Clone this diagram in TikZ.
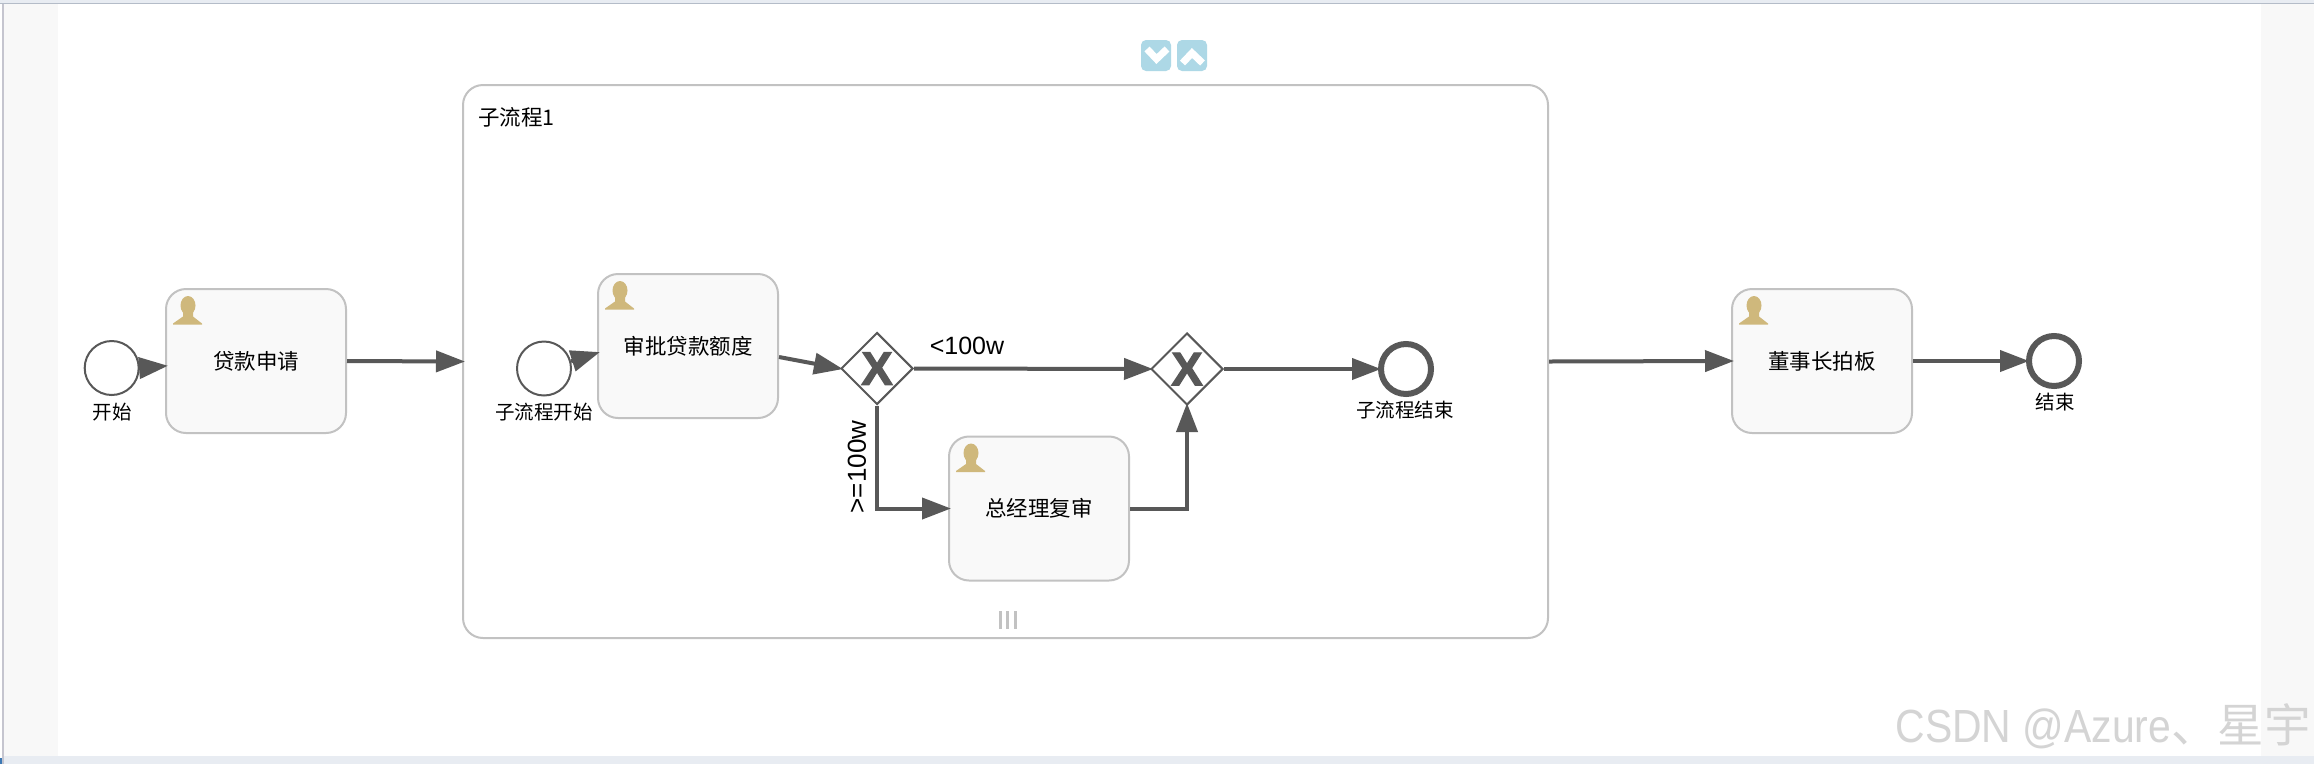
\documentclass[tikz,border=0pt]{standalone}
\usepackage{fontspec}
\usetikzlibrary{arrows.meta,shapes.geometric,calc}
\setmainfont{Liberation Sans}
\newfontfamily\cjk{Noto Sans CJK SC}
\newfontfamily\wmfont[FakeStretch=0.88]{Liberation Sans}
\newfontfamily\wmcjk{Noto Sans CJK SC}
\newfontfamily\gwfont[FakeBold=2.5]{Liberation Sans Bold}
\definecolor{edgegray}{HTML}{585858}
\definecolor{boxgray}{HTML}{C2C2C2}
\definecolor{boxfill}{HTML}{F9F9F9}
\definecolor{stripfill}{HTML}{F8F8F8}
\definecolor{barfill}{HTML}{E8ECF2}
\definecolor{barline}{HTML}{B4BCC8}
\definecolor{sideline}{HTML}{C5C5CF}
\definecolor{cornerblue}{HTML}{3C78B4}
\definecolor{iconfill}{HTML}{CFB87C}
\definecolor{btnfill}{HTML}{ADD8E6}
\tikzset{
  x=1pt,y=-1pt,
  taskbox/.style={draw=boxgray,line width=2pt,fill=boxfill,rounded corners=20pt,
    minimum width=180pt,minimum height=144pt,inner sep=0pt,
    font=\cjk\fontsize{21.5}{25}\selectfont,anchor=center},
  subbox/.style={draw=boxgray,line width=2pt,fill=white,rounded corners=20pt,
    minimum width=1085pt,minimum height=553pt,inner sep=0pt},
  startev/.style={circle,draw=edgegray,line width=2pt,fill=white,minimum size=54pt,inner sep=0pt},
  endev/.style={circle,draw=edgegray,line width=6pt,fill=white,minimum size=50pt,inner sep=0pt},
  gateway/.style={diamond,draw=edgegray,line width=2pt,fill=white,aspect=1,minimum size=72pt,inner sep=0pt,
    text=edgegray,font=\gwfont\fontsize{47}{47}\selectfont},
  evlabel/.style={font=\cjk\fontsize{19.5}{23}\selectfont,inner sep=0pt},
  edgelabel/.style={font=\fontsize{25}{29}\selectfont,inner sep=0pt},
  flow/.style={draw=edgegray,line width=4pt,shorten >=-3pt,-{Triangle[length=29pt,width=21pt]}},
  btn/.style={fill=btnfill,rounded corners=5pt,minimum width=30pt,minimum height=31pt,inner sep=0pt},
  chev/.style={draw=white,line width=7pt,miter limit=10},
  usericon/.pic={
    \fill[iconfill] (15,9) ellipse [x radius=7.5,y radius=9.5];
    \fill[iconfill] (0,28) -- (0,27) -- (10,20) -- (10,14) -- (20,14) -- (20,20) -- (29,27) -- (29,28) -- cycle;
  },
}
\begin{document}
\begin{tikzpicture}
\useasboundingbox (0,0) rectangle (2314,764);
% window frame
\fill[white] (0,0) rectangle (2314,764);
\fill[stripfill] (4,4) rectangle (58,756);
\fill[stripfill] (2261,4) rectangle (2314,756);
\fill[barfill] (0,0) rectangle (2314,3);
\fill[barline] (0,3) rectangle (2314,4);
\fill[barfill] (4,756) rectangle (2314,764);
\fill[sideline] (2,4) rectangle (4,764);
\fill[cornerblue] (0,758) rectangle (2,764);
% expand / collapse buttons
\node[btn] (b1) at (1156,55.5) {};
\node[btn] (b2) at (1192,55.5) {};
\draw[chev] (1147,49) -- (1156.5,59) -- (1167,49);
\draw[chev] (1182.5,63) -- (1192,53) -- (1202.5,63);
% sub process
\node[subbox] (sub) at (1005.5,361.5) {};
\node[evlabel,anchor=west,font=\cjk\fontsize{21.5}{25}\selectfont] (subl) at (478,117.5) {子流程1};
\foreach \hx in {1000,1007.5,1015} \draw[boxgray,line width=3pt] (\hx,611) -- (\hx,629);
% tasks
\node[taskbox] (t1) at (256,361) {\raisebox{-2pt}{贷款申请}};
\node[taskbox] (t2) at (688,346) {\raisebox{-2pt}{审批贷款额度}};
\node[taskbox] (t3) at (1039,508.5) {\raisebox{-2pt}{总经理复审}};
\node[taskbox] (t4) at (1822,361) {\raisebox{-2pt}{董事长拍板}};
\foreach \t in {t1,t2,t3,t4} \pic at ([shift={(8pt,-8.5pt)}]\t.north west) {usericon};
% events
\node[startev] (s1) at (111.7,368) {};
\node[startev] (s2) at (544,368.5) {};
\node[endev] (e1) at (1406,369) {};
\node[endev] (e2) at (2054,361) {};
\node[evlabel] (s1l) at (112,412) {开始};
\node[evlabel] (s2l) at (544,412) {子流程开始};
\node[evlabel] (e1l) at (1405,410) {子流程结束};
\node[evlabel] (e2l) at (2055,402) {结束};
% gateways
\node[gateway] (g1) at (877,368.5) {X};
\node[gateway] (g2) at (1187,369) {X};
% flows
\draw[flow] (s1.east) -- ([yshift=-5pt]t1.west);
\draw[flow] (t1.east) -- (sub.west);
\draw[flow] (s2.15) -- ([yshift=-7pt]t2.west);
\draw[flow] ([yshift=-11pt]t2.east) -- (g1.west);
\draw[flow] (g1.east) -- (g2.west);
\draw[flow] (g1.south) |- (t3.west);
\draw[flow] (t3.east) -| (g2.south);
\draw[flow] (g2.east) -- (e1.west);
\draw[flow] (sub.east) -- (t4.west);
\draw[flow] (t4.east) -- (e2.west);
% edge labels
\node[edgelabel] (l1) at (967,346) {<100w};
\node[edgelabel,rotate=90,font=\fontsize{26}{30}\selectfont] (l2) at (857,467) {>=100w};
% watermark
\node[anchor=east,inner sep=0pt,text=black!17,font=\wmfont\fontsize{46.5}{52}\selectfont] (wm) at (2311,726) {CSDN @Azure{\wmcjk 、星宇}};
\end{tikzpicture}
\end{document}
